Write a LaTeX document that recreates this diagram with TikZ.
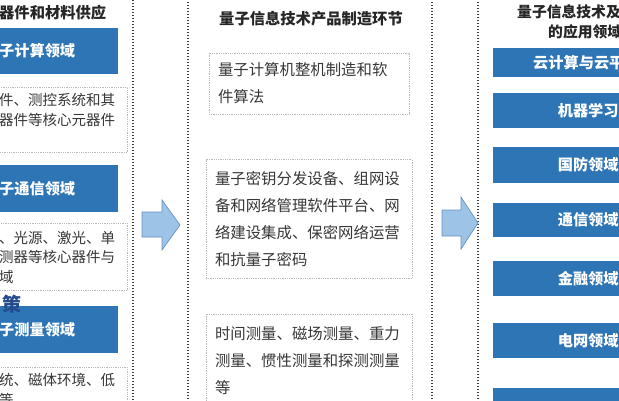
\documentclass[tikz,border=0pt]{standalone}
\usepackage{fontspec}
\newfontfamily\cjk{Noto Sans CJK SC}
\usetikzlibrary{positioning}

\definecolor{fieldblue}{RGB}{46,117,182}
\definecolor{arrowfill}{RGB}{157,195,230}
\definecolor{arrowline}{RGB}{104,145,196}
\definecolor{boxline}{RGB}{185,185,185}
\definecolor{colline}{RGB}{60,60,60}
\definecolor{bodytext}{RGB}{55,55,55}
\definecolor{marktext}{RGB}{35,75,140}

\tikzset{
  column/.style={draw=colline, dash pattern=on 1.1pt off 1.9pt, line width=1.1pt},
  fieldbox/.style={fill=fieldblue, text=white, inner sep=0pt,
    font=\cjk\bfseries\fontsize{15.2pt}{18pt}\selectfont},
  fieldtext/.style={text=white, inner sep=0pt,
    font=\cjk\bfseries\fontsize{15.2pt}{18pt}\selectfont},
  descbox/.style={draw=boxline, densely dotted, line width=0.8pt, fill=white, inner sep=0pt},
  sidetext/.style={text=bodytext, align=left, inner sep=0pt,
    font=\cjk\fontsize{14.5pt}{19.5pt}\selectfont},
  midbox/.style={descbox, text=bodytext, align=left, inner xsep=9pt, inner ysep=0pt,
    font=\cjk\fontsize{15.4pt}{27pt}\selectfont},
  heading/.style={text=black!85, inner sep=0pt,
    font=\cjk\bfseries\fontsize{15.3pt}{20pt}\selectfont},
  flow/.style={fill=arrowfill, draw=arrowline, line width=0.7pt, line join=miter},
}

\begin{document}
\begin{tikzpicture}[x=1pt, y=-1pt]
  \useasboundingbox (0,0) rectangle (619,400);
  \clip (0,0) rectangle (619,400);
  \fill[white] (0,0) rectangle (619,400);

  % Column frames
  \draw[column] (-130,-10) rectangle (133,410);
  \draw[column] (188,-10) rectangle (432,410);
  \draw[column] (478,-10) rectangle (720,410);

  % Left column: supply
  \node[heading, anchor=west] (supply) at (-1,13) {器件和材料供应};

  \node[fieldbox, anchor=east, minimum width=180, minimum height=46] (compute) at (118,51) {};
  \node[fieldtext, anchor=west] (compute-t) at (-1,51) {子计算领域};
  \node[descbox, anchor=north east, minimum width=250, minimum height=65] (compute-d) at (128,87) {};
  \node[sidetext, anchor=west] (compute-dt) at (-1,110) {件、测控系统和其\\器件等核心元器件};

  \node[fieldbox, anchor=east, minimum width=180, minimum height=47] (telecom) at (118,188.5) {};
  \node[fieldtext, anchor=west] (telecom-t) at (-1,188.5) {子通信领域};
  \node[descbox, anchor=north east, minimum width=250, minimum height=67] (telecom-d) at (128,223) {};
  \node[sidetext, anchor=west] (telecom-dt) at (-1,257) {、光源、激光、单\\测器等核心器件与\\域};

  \node[fieldbox, anchor=east, minimum width=180, minimum height=47] (measure) at (118,329.5) {};
  \node[fieldtext, anchor=west] (measure-t) at (-1,329.5) {子测量领域};
  \node[text=marktext, inner sep=0pt, font=\cjk\bfseries\fontsize{19pt}{22pt}\selectfont] (mark) at (12,304) {策};
  \node[descbox, anchor=north east, minimum width=250, minimum height=60] (measure-d) at (128,367) {};
  \node[sidetext, anchor=west] (measure-dt) at (-1,390) {统、磁体环境、低\\等};

  % Block arrows
  \draw[flow] (142,212) -- (162,212) -- (162,200) -- (180,225)
    -- (162,250) -- (162,237) -- (142,237) -- cycle;
  \draw[flow] (442,210) -- (461,210) -- (461,197) -- (478,223)
    -- (461,249) -- (461,236) -- (442,236) -- cycle;

  % Middle column: making
  \node[heading] (making) at (311,19) {量子信息技术产品制造环节};
  \node[midbox, minimum width=200, minimum height=61, text width=182] (machine) at (309,83.5)
    {量子计算机整机制造和软\\件算法};
  \node[midbox, minimum width=206, minimum height=119, text width=188] (keys) at (309,219)
    {量子密钥分发设备、组网设\\备和网络管理软件平台、网\\络建设集成、保密网络运营\\和抗量子密码};
  \node[midbox, minimum width=206, minimum height=94, text width=188] (sensing) at (309,361)
    {时间测量、磁场测量、重力\\测量、惯性测量和探测测量\\等};

  % Right column: uses
  \node[heading, anchor=west, font=\cjk\bfseries\fontsize{14.8pt}{20pt}\selectfont] (uses-a) at (517,12) {量子信息技术及};
  \node[heading, anchor=west, font=\cjk\bfseries\fontsize{14.8pt}{20pt}\selectfont] (uses-b) at (548,32) {的应用领域};

  \node[fieldbox, anchor=west, minimum width=190, minimum height=29] (cloud) at (493,62.5) {};
  \node[fieldtext, anchor=west] (cloud-t) at (533,62.5) {云计算与云平};
  \node[fieldbox, anchor=west, minimum width=190, minimum height=35] (learning) at (493,110.5) {机器学习};
  \node[fieldbox, anchor=west, minimum width=190, minimum height=36] (defense) at (493,165) {国防领域};
  \node[fieldbox, anchor=west, minimum width=190, minimum height=34] (network) at (493,220) {通信领域};
  \node[fieldbox, anchor=west, minimum width=190, minimum height=35] (finance) at (493,278.5) {金融领域};
  \node[fieldbox, anchor=west, minimum width=190, minimum height=35] (grid) at (493,340.5) {电网领域};
  \node[fieldbox, anchor=west, minimum width=190, minimum height=35] (industry) at (493,405.5) {};
\end{tikzpicture}
\end{document}
